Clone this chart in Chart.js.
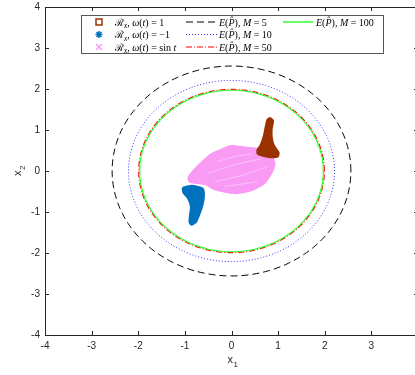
<!DOCTYPE html>
<html>
<head>
<meta charset="utf-8">
<script src="https://cdn.jsdelivr.net/npm/chart.js@4.4.1/dist/chart.umd.min.js"></script>
<style>
  html, body { margin: 0; padding: 0; overflow: hidden; background: #fff; }
</style>
</head>
<body>
<canvas id="myChart" width="420" height="375"></canvas>
<script>
// axis ticks
const xTicks = [-4, -3, -2, -1, 0, 1, 2, 3, 4];
const yTicks = [-4, -3, -2, -1, 0, 1, 2, 3, 4];

// ellipse E(P^) radii for each M
const mValues = [5, 10, 50, 100];
const ellipseRadius = [2.56, 2.21, 1.99, 1.97];

// reachable set, omega(t) = 1 (brown)
const brownX = [0.82, 0.89, 0.86, 0.87, 0.92, 1.01, 0.99, 0.77, 0.56, 0.56, 0.62, 0.69, 0.73, 0.77, 0.82];
const brownY = [1.30, 1.23, 1.01, 0.77, 0.60, 0.45, 0.35, 0.35, 0.42, 0.52, 0.62, 0.84, 1.06, 1.25, 1.30];

// reachable set, omega(t) = -1 (blue)
const blueX = [-1.05, -0.86, -0.62, -0.59, -0.62, -0.68, -0.76, -0.85, -0.90, -0.89, -0.87, -0.94, -1.03, -1.05];
const blueY = [-0.41, -0.36, -0.43, -0.60, -0.82, -1.03, -1.24, -1.31, -1.26, -1.07, -0.87, -0.65, -0.53, -0.41];

// reachable set, omega(t) = sin t (pink) and the thin gaps between its loops
const pinkX = [-0.93, -0.84, -0.71, -0.45, -0.21, -0.02, 0.32, 0.67, 0.86, 0.92, 0.86, 0.71, 0.45, 0.11, -0.11, -0.41, -0.54, -0.69, -0.90, -0.93];
const pinkY = [-0.16, -0.02, 0.13, 0.40, 0.52, 0.61, 0.57, 0.52, 0.40, 0.15, -0.04, -0.29, -0.46, -0.54, -0.51, -0.42, -0.33, -0.30, -0.26, -0.16];
const gap1X = [-0.30, 0.06, 0.43], gap1Y = [0.23, 0.35, 0.42];
const gap2X = [-0.52, 0.06, 0.64], gap2Y = [-0.07, 0.15, 0.30];
const gap3X = [-0.36, 0.28, 0.77], gap3Y = [-0.26, -0.09, 0.11];
const gap4X = [-0.15, 0.56], gap4Y = [-0.38, -0.26];

const axisColor = '#262626';
const brown = '#9A3300';
const blue = '#0072BD';
const pink = '#F99AF5';
const lineStyles = [
    { color: '#000000', dash: [7, 4], width: 1 },
    { color: '#3333FF', dash: [1, 2], width: 1 },
    { color: '#FF0000', dash: [6, 2, 1, 2], width: 1.2 },
    { color: '#33FF33', dash: [], width: 1.2 }
];

const zip = (xs, ys) => xs.map((x, i) => ({ x: x, y: ys[i] }));
const circle = r => Array.from({ length: 241 }, (_, i) => {
    const a = i * 2 * Math.PI / 240;
    return { x: r * Math.cos(a), y: r * Math.sin(a) };
});

const region = (data, color, order) => ({
    data: data,
    showLine: true,
    fill: 'shape',
    backgroundColor: color,
    borderColor: color,
    borderWidth: 2,
    pointRadius: 0,
    tension: 0.2,
    order: order
});

const gap = data => ({
    data: data,
    showLine: true,
    fill: false,
    borderColor: 'rgba(255,255,255,0.4)',
    borderWidth: 1,
    pointRadius: 0,
    tension: 0.4,
    order: 2.5
});

const datasets = [
    region(zip(brownX, brownY), brown, 1),
    region(zip(blueX, blueY), blue, 2),
    gap(zip(gap1X, gap1Y)),
    gap(zip(gap2X, gap2Y)),
    gap(zip(gap3X, gap3Y)),
    gap(zip(gap4X, gap4Y)),
    region(zip(pinkX, pinkY), pink, 3)
];
ellipseRadius.forEach((r, i) => {
    datasets.push({
        data: circle(r),
        showLine: true,
        fill: false,
        borderColor: lineStyles[i].color,
        borderDash: lineStyles[i].dash,
        borderWidth: lineStyles[i].width,
        pointRadius: 0,
        order: 10 - i
    });
});

function rich(ctx, x, y, parts, size) {
    parts.forEach(p => {
        const fs = p.sub ? size * 0.72 : size;
        ctx.font = (p.it ? 'italic ' : '') + fs + 'px "Liberation Serif", "DejaVu Serif", serif';
        ctx.fillText(p.t, x, y + (p.sub ? size * 0.28 : 0));
        x += ctx.measureText(p.t).width;
    });
}

const rxParts = tail => [{ t: '\u211B' }, { t: 'x', it: true, sub: true }, { t: ', ' }, { t: '\u03C9', it: true },
    { t: '(' }, { t: 't', it: true }].concat(tail);
const epParts = m => [{ t: 'E', it: true }, { t: '(' }, { t: 'P\u0302', it: true }, { t: '), ' },
    { t: 'M', it: true }, { t: ' = ' + m }];

const decorPlugin = {
    id: 'decor',
    afterDraw(chart) {
        const ctx = chart.ctx;
        const area = chart.chartArea;
        const xs = chart.scales.x, ys = chart.scales.y;
        ctx.save();
        // frame
        ctx.strokeStyle = axisColor;
        ctx.lineWidth = 1;
        ctx.strokeRect(Math.round(area.left) + 0.5, Math.round(area.top) + 0.5,
            Math.round(area.right - area.left), Math.round(area.bottom - area.top));
        // inward tick marks
        ctx.beginPath();
        xTicks.forEach(v => {
            const px = Math.round(xs.getPixelForValue(v)) + 0.5;
            ctx.moveTo(px, area.bottom); ctx.lineTo(px, area.bottom - 4);
            ctx.moveTo(px, area.top); ctx.lineTo(px, area.top + 4);
        });
        yTicks.forEach(v => {
            const py = Math.round(ys.getPixelForValue(v)) + 0.5;
            ctx.moveTo(area.left, py); ctx.lineTo(area.left + 4, py);
            ctx.moveTo(area.right, py); ctx.lineTo(area.right - 4, py);
        });
        ctx.stroke();

        // axis titles
        ctx.fillStyle = axisColor;
        ctx.textBaseline = 'alphabetic';
        ctx.font = '11px "Liberation Sans", Arial, sans-serif';
        ctx.textAlign = 'left';
        const cx = xs.getPixelForValue(0);
        ctx.fillText('x', cx - 4, 363);
        ctx.font = '8px "Liberation Sans", Arial, sans-serif';
        ctx.fillText('1', cx + 2, 367);
        ctx.save();
        ctx.translate(21, ys.getPixelForValue(0) + 5);
        ctx.rotate(-Math.PI / 2);
        ctx.font = '11px "Liberation Sans", Arial, sans-serif';
        ctx.fillText('x', 0, 0);
        ctx.font = '8px "Liberation Sans", Arial, sans-serif';
        ctx.fillText('2', 6, 4);
        ctx.restore();

        // legend
        const bx = 81.5, by = 15.5, bw = 302, bh = 38;
        ctx.fillStyle = '#fff';
        ctx.fillRect(bx, by, bw, bh);
        ctx.strokeStyle = '#555';
        ctx.strokeRect(bx, by, bw, bh);
        const rows = [22, 34.5, 47];
        // markers
        ctx.lineWidth = 1.5;
        ctx.strokeStyle = brown;
        ctx.strokeRect(96, rows[0] - 3, 6, 6);
        ctx.strokeStyle = blue;
        ctx.beginPath();
        for (let k = 0; k < 4; k++) {
            const a = k * Math.PI / 4;
            ctx.moveTo(99 - 3.5 * Math.cos(a), rows[1] - 3.5 * Math.sin(a));
            ctx.lineTo(99 + 3.5 * Math.cos(a), rows[1] + 3.5 * Math.sin(a));
        }
        ctx.stroke();
        ctx.strokeStyle = pink;
        ctx.beginPath();
        ctx.moveTo(96, rows[2] - 3); ctx.lineTo(102, rows[2] + 3);
        ctx.moveTo(102, rows[2] - 3); ctx.lineTo(96, rows[2] + 3);
        ctx.stroke();
        // line samples
        const samples = [[186, 217, rows[0]], [186, 217, rows[1]], [186, 217, rows[2]], [283, 313, rows[0]]];
        samples.forEach((s, i) => {
            ctx.strokeStyle = lineStyles[i].color;
            ctx.setLineDash(lineStyles[i].dash);
            ctx.lineWidth = i === 3 ? 1.5 : 1.2;
            ctx.beginPath();
            ctx.moveTo(s[0], s[2]); ctx.lineTo(s[1], s[2]);
            ctx.stroke();
        });
        ctx.setLineDash([]);
        // texts
        ctx.fillStyle = '#000';
        rich(ctx, 115, rows[0] + 3.5, rxParts([{ t: ') = 1' }]), 10);
        rich(ctx, 115, rows[1] + 3.5, rxParts([{ t: ') = \u22121' }]), 10);
        rich(ctx, 115, rows[2] + 3.5, rxParts([{ t: ') = sin ' }, { t: 't', it: true }]), 10);
        rich(ctx, 219, rows[0] + 3.5, epParts(mValues[0]), 10);
        rich(ctx, 219, rows[1] + 3.5, epParts(mValues[1]), 10);
        rich(ctx, 219, rows[2] + 3.5, epParts(mValues[2]), 10);
        rich(ctx, 316, rows[0] + 3.5, epParts(mValues[3]), 10);
        ctx.restore();
    }
};

const tickFont = { family: '"Liberation Sans", Arial, sans-serif', size: 10 };

new Chart(document.getElementById('myChart').getContext('2d'), {
    type: 'scatter',
    data: { datasets: datasets },
    options: {
        responsive: false,
        animation: false,
        layout: { padding: { left: 0, top: 7, right: 2, bottom: 0 } },
        plugins: { legend: { display: false }, tooltip: { enabled: false } },
        scales: {
            x: {
                type: 'linear', min: -4, max: 4,
                afterBuildTicks: s => { s.ticks = xTicks.map(v => ({ value: v })); },
                afterFit: s => { s.height = 40; s.paddingLeft = 0; s.paddingRight = 0; },
                grid: { display: false, drawTicks: false },
                border: { display: false },
                ticks: { color: axisColor, font: tickFont, padding: 5, autoSkip: false, maxRotation: 0 }
            },
            y: {
                type: 'linear', min: -4, max: 4,
                afterBuildTicks: s => { s.ticks = yTicks.map(v => ({ value: v })); },
                afterFit: s => { s.width = 45; s.paddingTop = 0; s.paddingBottom = 0; },
                grid: { display: false, drawTicks: false },
                border: { display: false },
                ticks: { color: axisColor, font: tickFont, padding: 5, autoSkip: false }
            }
        }
    },
    plugins: [decorPlugin]
});
</script>
</body>
</html>
